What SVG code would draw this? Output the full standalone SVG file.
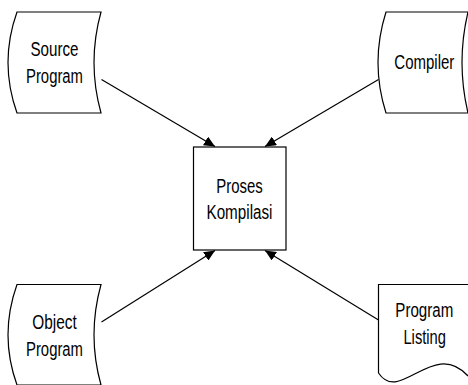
<svg xmlns="http://www.w3.org/2000/svg" width="468" height="385" viewBox="0 0 468 385">
<style>
.shape{fill:#fff;stroke:#000;stroke-width:1.2}
.lbl{font-family:"Liberation Sans",Arial,sans-serif;font-size:20px;fill:#000;text-anchor:middle}
.conn{stroke:#000;stroke-width:1.2;fill:none;marker-end:url(#ah)}
</style>
<defs>
<marker id="ah" markerUnits="userSpaceOnUse" markerWidth="12" markerHeight="10" refX="11" refY="5" orient="auto">
<path d="M0,0 L11,5 L0,10 Z" fill="#000"/>
</marker>
</defs>
<rect width="468" height="385" fill="#fff"/>
<g id="source-program">
<path class="shape" d="M17,12 L101,12 Q87,62.5 101,113 L17,113 Q-1,62.5 17,12 Z"/>
<text class="lbl" x="54.5" y="55.5" textLength="48" lengthAdjust="spacingAndGlyphs">Source</text>
<text class="lbl" x="54.5" y="82.5" textLength="57" lengthAdjust="spacingAndGlyphs">Program</text>
</g>
<g id="compiler">
<path class="shape" d="M386,12 L468,12 Q456,62.5 468,113 L386,113 Q370,62.5 386,12 Z"/>
<text class="lbl" x="424.3" y="69" textLength="60" lengthAdjust="spacingAndGlyphs">Compiler</text>
</g>
<g id="object-program">
<path class="shape" d="M17,284.5 L101,284.5 Q87,335 101,385 L17,385 Q-1,335 17,284.5 Z"/>
<text class="lbl" x="54.5" y="328.5" textLength="44.5" lengthAdjust="spacingAndGlyphs">Object</text>
<text class="lbl" x="54.5" y="355.5" textLength="57" lengthAdjust="spacingAndGlyphs">Program</text>
</g>
<g id="program-listing">
<path d="M378.5,284.5 L468,284.5 L468,376 C433,338 400,405 378.5,373 Z" fill="#fff"/>
<path class="shape" fill="none" d="M468,284.5 L378.5,284.5 L378.5,373 C400,405 433,338 468,376" style="fill:none"/>
<text class="lbl" x="424.3" y="316.5" textLength="58" lengthAdjust="spacingAndGlyphs">Program</text>
<text class="lbl" x="424.7" y="343.5" textLength="42.5" lengthAdjust="spacingAndGlyphs">Listing</text>
</g>
<g id="proses-kompilasi">
<rect class="shape" x="193.5" y="147" width="92.5" height="103"/>
<text class="lbl" x="239.5" y="192.5" textLength="46.5" lengthAdjust="spacingAndGlyphs">Proses</text>
<text class="lbl" x="239.5" y="219" textLength="66" lengthAdjust="spacingAndGlyphs">Kompilasi</text>
</g>
<g id="connectors">
<line class="conn" x1="101.5" y1="79.5" x2="215" y2="146.5"/>
<line class="conn" x1="378.5" y1="79.5" x2="265" y2="146.5"/>
<line class="conn" x1="101.5" y1="322" x2="215" y2="250.5"/>
<line class="conn" x1="378.5" y1="320" x2="265" y2="250.5"/>
</g>
</svg>
